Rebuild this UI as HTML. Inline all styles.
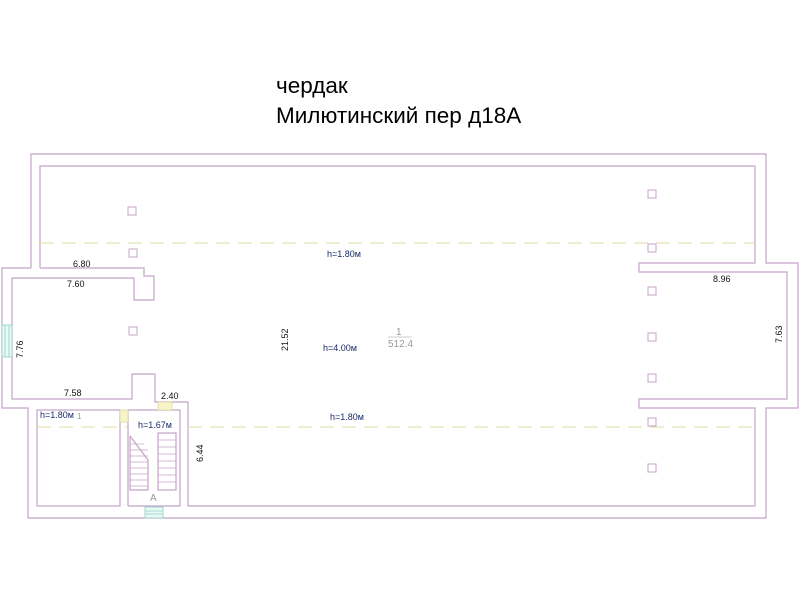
<!DOCTYPE html>
<html><head><meta charset="utf-8"><style>
html,body{margin:0;padding:0;background:#fff;}
svg{display:block;font-family:"Liberation Sans",sans-serif;}
</style></head><body>
<svg width="800" height="600" viewBox="0 0 800 600" xmlns="http://www.w3.org/2000/svg">
<text x="276" y="93" font-size="22.5" fill="#000">чердак</text>
<text x="276" y="123" font-size="22.5" fill="#000">Милютинский пер д18А</text>
<g fill="none" stroke="#c4a4c8" stroke-width="1.2">
<polyline points="31,268 31,154 766,154 766,263 798,263 798,408 766,408 766,518 28,518 28,408 2,408 2,268 31,268"/>
<polyline points="40,268 40,166 755,166 755,263 639,263 639,272 787,272 787,399 639,399 639,408 755,408 755,506 188,506 188,402 155,402 155,374 132,374 132,399 12,399 12,278 134,278 134,300 154,300 154,276 144,276 144,268 40,268"/>
<rect x="37" y="410" width="83" height="96"/>
<polyline points="128,506 128,410 180,410 180,506 128,506"/>
<polyline points="130,436 130,490 148,490 148,460 130,436"/>
<rect x="158" y="433" width="18" height="57"/>
</g>
<g stroke="#c4a4c8" stroke-width="0.7">
<line x1="130" y1="444" x2="144" y2="444"/><line x1="130" y1="450" x2="148" y2="450"/><line x1="130" y1="456" x2="148" y2="456"/><line x1="130" y1="462" x2="148" y2="462"/><line x1="130" y1="468" x2="148" y2="468"/><line x1="130" y1="474" x2="148" y2="474"/><line x1="130" y1="480" x2="148" y2="480"/><line x1="130" y1="486" x2="148" y2="486"/>
<line x1="158" y1="440" x2="176" y2="440"/><line x1="158" y1="447" x2="176" y2="447"/><line x1="158" y1="454" x2="176" y2="454"/><line x1="158" y1="461" x2="176" y2="461"/><line x1="158" y1="468" x2="176" y2="468"/><line x1="158" y1="475" x2="176" y2="475"/><line x1="158" y1="482" x2="176" y2="482"/>
</g>
<g fill="none" stroke="#c4a4c8" stroke-width="1">
<rect x="128" y="207" width="8" height="8"/><rect x="129" y="249" width="8" height="8"/><rect x="129" y="327" width="8" height="8"/>
<rect x="648" y="190" width="8" height="8"/><rect x="648" y="244" width="8" height="8"/><rect x="648" y="287" width="8" height="8"/><rect x="648" y="333" width="8" height="8"/><rect x="648" y="374" width="8" height="8"/><rect x="648" y="418" width="8" height="8"/><rect x="648" y="464" width="8" height="8"/>
</g>
<g stroke="#e0dca0" stroke-width="1" stroke-dasharray="14,8">
<line x1="40" y1="243" x2="755" y2="243"/>
<line x1="37" y1="427" x2="128" y2="427"/>
<line x1="188" y1="427" x2="755" y2="427"/>
</g>
<g fill="#f8f4c8" stroke="#d8d8a0" stroke-width="0.7">
<rect x="120" y="410" width="8" height="12"/>
<rect x="158" y="402" width="14" height="8"/>
</g>
<g fill="#e8f8f4" stroke="#90d0c8" stroke-width="0.8">
<rect x="2" y="325" width="10" height="32"/><line x1="5" y1="325" x2="5" y2="357"/><line x1="9" y1="325" x2="9" y2="357"/>
<rect x="145" y="507" width="18" height="11"/><line x1="145" y1="511" x2="163" y2="511"/><line x1="145" y1="514" x2="163" y2="514"/>
</g>
<g font-size="9" fill="#111">
<text x="73" y="267">6.80</text>
<text x="67" y="287">7.60</text>
<text x="64" y="396">7.58</text>
<text x="161" y="399">2.40</text>
<text x="713" y="282">8.96</text>
<text transform="translate(288,351) rotate(-90)">21.52</text>
<text transform="translate(23,358) rotate(-90)">7.76</text>
<text transform="translate(203,462) rotate(-90)">6.44</text>
<text transform="translate(782,343) rotate(-90)">7.63</text>
</g>
<g font-size="9" fill="#1a2a6a">
<text x="327" y="257">h=1.80м</text>
<text x="323" y="351">h=4.00м</text>
<text x="330" y="420">h=1.80м</text>
<text x="40" y="418">h=1.80м</text>
<text x="138" y="428">h=1.67м</text>
</g>
<g font-size="10" fill="#999">
<text x="396" y="335">1</text>
<line x1="388" y1="337" x2="412" y2="337" stroke="#999" stroke-width="0.6"/>
<text x="388" y="347">512.4</text>
<text x="150" y="501">A</text>
<text x="77" y="419" font-size="8">1</text>
</g>
</svg>
</body></html>
